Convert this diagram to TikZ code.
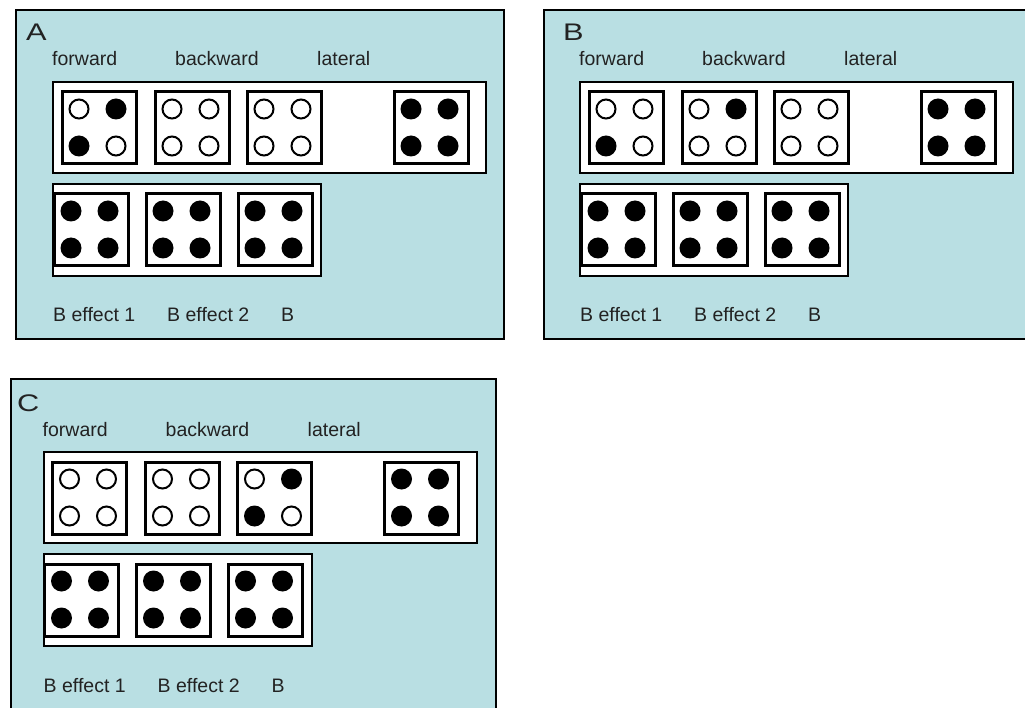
\documentclass[tikz,border=0pt]{standalone}
\usepackage{fontspec}
\setmainfont{Liberation Sans}
\definecolor{panelblue}{HTML}{B9DFE3}
\definecolor{txt}{HTML}{222222}
\tikzset{
  panel/.style={draw=black, line width=2pt, fill=panelblue},
  strip/.style={draw=black, line width=2pt, fill=white},
  diebox/.style={draw=black, line width=3pt, fill=white, rectangle, minimum width=74pt, minimum height=72pt, inner sep=0pt, anchor=north west},
  F/.style={circle, fill=black, minimum size=21pt, inner sep=0pt},
  O/.style={circle, draw=black, line width=2pt, fill=white, minimum size=19pt, inner sep=0pt},
  lbl/.style={font=\fontsize{19.5}{20}\selectfont, text=txt, inner sep=0pt, anchor=base west},
  plabel/.style={font=\fontsize{24}{24}\selectfont, text=txt, inner sep=0pt, anchor=base west},
}
% die: name, x, y (outer top-left), then TL TR BL BR dot styles
\newcommand{\die}[7]{%
  \node[diebox] (#1) at (#2+1.5,#3+1.5) {};
  \node[#4] (#1-a) at (#2+20,#3+20) {};
  \node[#5] (#1-b) at (#2+57,#3+20) {};
  \node[#6] (#1-c) at (#2+20,#3+57) {};
  \node[#7] (#1-d) at (#2+57,#3+57) {};
}
\newcommand{\panelhead}[3]{%
  \node[plabel] (#1-title) at (#3,32) {\scalebox{1.28}[1]{#2}};
  \node[lbl] (#1-fw) at (37,57) {forward};
  \node[lbl] (#1-bw) at (160,57) {backward};
  \node[lbl] (#1-lat) at (302,57) {lateral};
  \draw[strip] (38,73) rectangle (471,164);
}
\newcommand{\paneltail}[1]{%
  \die{#1-d4}{376}{80}{F}{F}{F}{F}
  \draw[strip] (38,175) rectangle (306,267);
  \die{#1-e1}{36}{182}{F}{F}{F}{F}
  \die{#1-e2}{128}{182}{F}{F}{F}{F}
  \die{#1-e3}{220}{182}{F}{F}{F}{F}
  \node[lbl] (#1-b1) at (38,313) {B effect 1};
  \node[lbl] (#1-b2) at (152,313) {B effect 2};
  \node[lbl] (#1-b3) at (266,313) {B};
}
\begin{document}
\begin{tikzpicture}[x=1pt, y=-1pt]
\useasboundingbox (0,0) rectangle (1025,708);
\clip (0,0) rectangle (1025,708);
% Panel A
\draw[panel] (16,10) rectangle (504,339);
\begin{scope}[shift={(15,9)}]
  \panelhead{A}{A}{11}
  \die{A-d1}{44}{80}{O}{F}{F}{O}
  \die{A-d2}{137}{80}{O}{O}{O}{O}
  \die{A-d3}{229}{80}{O}{O}{O}{O}
  \paneltail{A}
\end{scope}
% Panel B
\draw[panel] (544,10) rectangle (1035,339);
\begin{scope}[shift={(542,9)}]
  \panelhead{B}{B}{21}
  \die{B-d1}{44}{80}{O}{O}{F}{O}
  \die{B-d2}{137}{80}{O}{F}{O}{O}
  \die{B-d3}{229}{80}{O}{O}{O}{O}
  \paneltail{B}
\end{scope}
% Panel C
\draw[panel] (11,379) rectangle (496,720);
\begin{scope}[shift={(5.5,379)}]
  \panelhead{C}{C}{11.5}
  \die{C-d1}{44}{80}{O}{O}{O}{O}
  \die{C-d2}{137}{80}{O}{O}{O}{O}
  \die{C-d3}{229}{80}{O}{F}{F}{O}
  \paneltail{C}
\end{scope}
\end{tikzpicture}
\end{document}
